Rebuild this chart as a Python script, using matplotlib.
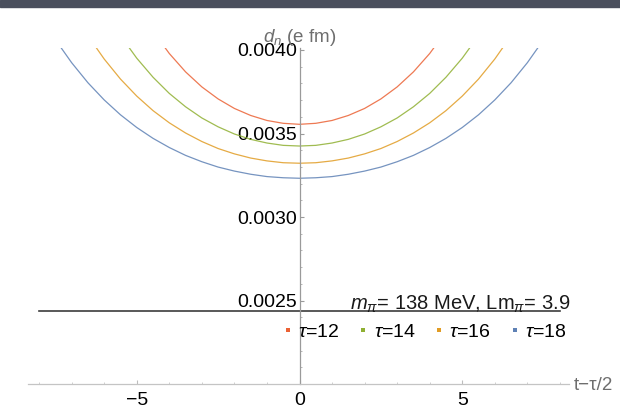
import matplotlib
matplotlib.use('Agg')
import matplotlib.pyplot as plt
from matplotlib.lines import Line2D
from matplotlib.patches import Rectangle
from matplotlib.ticker import FixedLocator, StrMethodFormatter

plt.rcParams['font.family'] = 'Liberation Sans'
plt.rcParams['mathtext.fontset'] = 'custom'
plt.rcParams['mathtext.rm'] = 'Liberation Sans'
plt.rcParams['mathtext.it'] = 'Liberation Sans:italic'

# d_n(t - tau/2) for each source-sink separation tau
t_12 = [-4.5, -4, -3.5, -3, -2.5, -2, -1.5, -1, -0.5, 0,
        0.5, 1, 1.5, 2, 2.5, 3, 3.5, 4, 4.5]
d_12 = [0.004112, 0.003979, 0.003869, 0.003779, 0.003707, 0.003650, 0.003608, 0.003578,
        0.003561, 0.003555, 0.003561, 0.003578, 0.003608, 0.003650, 0.003707, 0.003779,
        0.003869, 0.003979, 0.004112]

t_14 = [-5.5, -5, -4.5, -4, -3.5, -3, -2.5, -2, -1.5, -1, -0.5, 0,
        0.5, 1, 1.5, 2, 2.5, 3, 3.5, 4, 4.5, 5, 5.5]
d_14 = [0.004086, 0.003951, 0.003837, 0.003740, 0.003660, 0.003593, 0.003540, 0.003497,
        0.003465, 0.003443, 0.003429, 0.003425, 0.003429, 0.003443, 0.003465, 0.003497,
        0.003540, 0.003593, 0.003660, 0.003740, 0.003837, 0.003951, 0.004086]

t_16 = [-6.5, -6, -5.5, -5, -4.5, -4, -3.5, -3, -2.5, -2, -1.5, -1, -0.5, 0,
        0.5, 1, 1.5, 2, 2.5, 3, 3.5, 4, 4.5, 5, 5.5, 6, 6.5]
d_16 = [0.004085, 0.003946, 0.003826, 0.003724, 0.003637, 0.003564, 0.003503, 0.003452,
        0.003410, 0.003378, 0.003353, 0.003336, 0.003325, 0.003322, 0.003325, 0.003336,
        0.003353, 0.003378, 0.003410, 0.003452, 0.003503, 0.003564, 0.003637, 0.003724,
        0.003826, 0.003946, 0.004085]

t_18 = [-7.5, -7, -6.5, -6, -5.5, -5, -4.5, -4, -3.5, -3, -2.5, -2, -1.5, -1, -0.5, 0,
        0.5, 1, 1.5, 2, 2.5, 3, 3.5, 4, 4.5, 5, 5.5, 6, 6.5, 7, 7.5]
d_18 = [0.004062, 0.003924, 0.003804, 0.003701, 0.003612, 0.003536, 0.003471, 0.003416,
        0.003369, 0.003331, 0.003299, 0.003275, 0.003256, 0.003242, 0.003235, 0.003232,
        0.003235, 0.003242, 0.003256, 0.003275, 0.003299, 0.003331, 0.003369, 0.003416,
        0.003471, 0.003536, 0.003612, 0.003701, 0.003804, 0.003924, 0.004062]

series = [
    ('$\\tau$=12', t_12, d_12, '#eb6235'),
    ('$\\tau$=14', t_14, d_14, '#8fb032'),
    ('$\\tau$=16', t_16, d_16, '#e19c24'),
    ('$\\tau$=18', t_18, d_18, '#5e81b5'),
]

# plot range and horizontal marker line
x_range = (-8.33, 8.27)
y_range = (0.0020, 0.00401)
hline_y = 0.002437
hline_x = [-8.0, 8.0]

fig = plt.figure(figsize=(6.2, 4.17), dpi=100)
ax = fig.add_axes([0, 0, 1, 1])
ax.patch.set_alpha(0)
ax.set_xlim(-9.201, 9.846)
ax.set_ylim(0.0018024, 0.0042994)

# dark strip along the top edge
fig.patches.append(Rectangle((0, 1 - 7 / 417), 1, 7 / 417, transform=fig.transFigure,
                             color='#4a4f5d', zorder=0))

clip = Rectangle((x_range[0], y_range[0]), x_range[1] - x_range[0], y_range[1] - y_range[0],
                 transform=ax.transData)

for label, t, d, c in series:
    ln, = ax.plot(t, d, color=c, lw=0.9, alpha=0.85, solid_joinstyle='round')
    ln.set_clip_path(clip)

ax.plot(hline_x, [hline_y, hline_y], color='#3c3c3c', lw=1.2)

# axes crossing at (0, 0.0020)
for s in ['top', 'right']:
    ax.spines[s].set_visible(False)
ax.spines['bottom'].set_position(('data', y_range[0]))
ax.spines['bottom'].set_bounds(*x_range)
ax.spines['bottom'].set_color('#c4c4c4')
ax.spines['left'].set_position(('data', 0))
ax.spines['left'].set_bounds(*y_range)
ax.spines['left'].set_color('#9a9a9a')
for s in ['bottom', 'left']:
    ax.spines[s].set_linewidth(0.9)

ax.xaxis.set_major_locator(FixedLocator([-5, 0, 5]))
ax.xaxis.set_minor_locator(FixedLocator([v for v in range(-8, 9) if v % 5]))
ax.yaxis.set_major_locator(FixedLocator([0.0025, 0.0030, 0.0035, 0.0040]))
ax.yaxis.set_minor_locator(FixedLocator([0.0020 + 0.0001 * k for k in range(1, 21) if k % 5]))
ax.yaxis.set_major_formatter(StrMethodFormatter('{x:.4f}'))

ax.tick_params(axis='x', which='major', direction='in', length=3, width=0.8,
               color='#bdbdbd', labelsize=14, pad=5.5)
ax.tick_params(axis='x', which='minor', direction='in', length=1.6, width=0.6, color='#c8c8c8')
ax.tick_params(axis='y', which='major', direction='in', length=3, width=0.8,
               color='#9a9a9a', labelsize=14, pad=1.5)
ax.tick_params(axis='y', which='minor', direction='in', length=1.6, width=0.6, color='#aaaaaa')

ax.text(299.5 / 620, 1 - 37 / 417, '$d_n$ (e fm)', transform=ax.transAxes, fontsize=13.5,
        color='#6e6e6e', ha='center', va='center')
ax.text(574 / 620, 1 - 385 / 417, 't\u2212\u03c4/2', transform=ax.transAxes, fontsize=13.5,
        color='#6e6e6e', ha='left', va='center')

note = ax.text(1.55, hline_y + 0.0000075, '$m_\\pi$= 138 MeV, Lm$_\\pi$= 3.9', fontsize=14.5,
               color='#1a1a1a', ha='left', va='baseline')
note.set_clip_path(clip)

handles = [Line2D([], [], ls='none', marker='s', ms=2.6, color=c, mew=0) for _, _, _, c in series]
ax.legend(handles, [s[0] for s in series], ncol=4, frameon=False, fontsize=14,
          loc='center left', bbox_to_anchor=(283.1 / 620, 1 - 331.7 / 417),
          bbox_transform=fig.transFigure, borderpad=0, borderaxespad=0,
          handlelength=0.5, handletextpad=0.27, columnspacing=0.98)

fig.savefig('out.png', dpi=100)
